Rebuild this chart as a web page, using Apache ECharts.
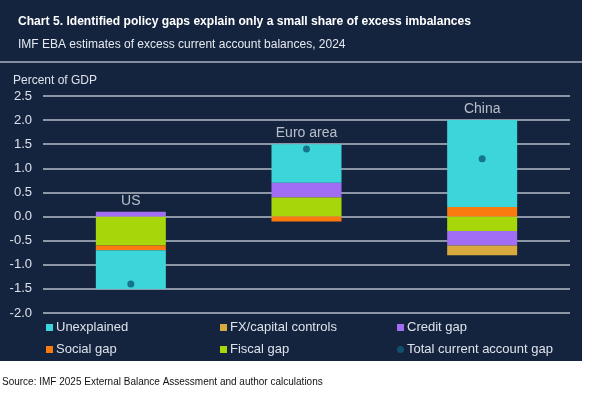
<!DOCTYPE html>
<html>
<head>
<meta charset="utf-8">
<script src="https://cdn.jsdelivr.net/npm/echarts@6/dist/echarts.min.js"></script>
<style>html,body{margin:0;padding:0;background:#fff;}#c{width:602px;height:396px;}</style>
</head>
<body>
<div id="c"></div>
<script>
var categories = ['US', 'Euro area', 'China'];
var fiscalGap = [-0.6, 0.4, -0.3];
var socialGap = [-0.1, -0.1, 0.2];
var creditGap = [0.1, 0.3, -0.3];
var fxControls = [0, 0, -0.2];
var unexplained = [-0.8, 0.8, 1.8];
var totalGap = [-1.4, 1.4, 1.2];
var yTicks = [-2.0, 2.5, 0.5];

var colors = {
  unexplained: '#3cd5da', fx: '#d8a93c', credit: '#a16ef3',
  social: '#fb7a10', fiscal: '#a7d60b', total: '#0e5b79'
};
var txt = '#dde2ea';

var componentArrays = [fiscalGap, socialGap, creditGap, fxControls, unexplained];
var tops = categories.map(function (c, i) {
  var s = 0;
  componentArrays.forEach(function (a) { if (a[i] > 0) s += a[i]; });
  return s;
});

function bar(name, data, color) {
  return {
    name: name, type: 'bar', stack: 'gaps', data: data, barWidth: 70,
    itemStyle: { color: color }, emphasis: { disabled: true }
  };
}
function legendCol(left, items) {
  return {
    orient: 'vertical', left: left, top: 321, padding: 0, itemWidth: 7, itemHeight: 7, itemGap: 9,
    data: items, textStyle: { color: txt, fontSize: 13, fontFamily: 'Liberation Sans', padding: [0, 0, 0, -2] }
  };
}

var chart = echarts.init(document.getElementById('c'));
chart.setOption({
  backgroundColor: '#ffffff',
  animation: false,
  graphic: [
    { type: 'rect', shape: { x: 0, y: 0, width: 582, height: 361 }, style: { fill: '#14243e' }, z: -10 },
    { type: 'line', shape: { x1: 0, y1: 62, x2: 582, y2: 62 }, style: { stroke: '#a9b3c3', lineWidth: 1.5 }, z: -5 }
  ],
  title: [
    { text: 'Chart 5. Identified policy gaps explain only a small share of excess imbalances',
      left: 18, top: 16, padding: 0, textStyle: { color: '#ffffff', fontSize: 12.1, fontWeight: 'bold', fontFamily: 'Liberation Sans' } },
    { text: 'IMF EBA estimates of excess current account balances, 2024',
      left: 18, top: 39, padding: 0, textStyle: { color: '#e6e9ef', fontSize: 12, fontWeight: 'normal', fontFamily: 'Liberation Sans' } },
    { text: 'Percent of GDP', left: 13, top: 75, padding: 0, textStyle: { color: txt, fontSize: 12, fontWeight: 'normal', fontFamily: 'Liberation Sans' } },
    { text: 'Source: IMF 2025 External Balance Assessment and author calculations',
      left: 2, top: 377, padding: 0, textStyle: { color: '#111111', fontSize: 10, fontWeight: 'normal', fontFamily: 'Liberation Sans' } }
  ],
  grid: { left: 43, right: 32, top: 96, bottom: 83 },
  xAxis: {
    type: 'category', data: categories,
    axisLine: { show: false }, axisTick: { show: false }, axisLabel: { show: false }
  },
  yAxis: {
    type: 'value', min: yTicks[0], max: yTicks[1], interval: yTicks[2],
    axisLine: { show: false }, axisTick: { show: false },
    axisLabel: { color: txt, fontSize: 13, margin: 11, fontFamily: 'Liberation Sans',
      formatter: function (v) { return v.toFixed(1); } },
    splitLine: { lineStyle: { color: '#b4bccb', width: 1.5 } }
  },
  legend: [
    legendCol(46, [{ name: 'Unexplained', icon: 'rect' }, { name: 'Social gap', icon: 'rect' }]),
    legendCol(220, [{ name: 'FX/capital controls', icon: 'rect' }, { name: 'Fiscal gap', icon: 'rect' }]),
    legendCol(397, [{ name: 'Credit gap', icon: 'rect' }, { name: 'Total current account gap', icon: 'circle' }])
  ],
  series: [
    bar('Fiscal gap', fiscalGap, colors.fiscal),
    bar('Social gap', socialGap, colors.social),
    bar('Credit gap', creditGap, colors.credit),
    bar('FX/capital controls', fxControls, colors.fx),
    bar('Unexplained', unexplained, colors.unexplained),
    {
      name: 'Total current account gap', type: 'scatter', data: totalGap, symbolSize: 7,
      itemStyle: { color: colors.total }, z: 5, emphasis: { disabled: true }
    },
    {
      name: 'labels', type: 'scatter', data: tops, symbolSize: 0, silent: true,
      label: { show: true, position: 'top', distance: 4, color: txt, fontSize: 14, fontFamily: 'Liberation Sans',
        formatter: function (p) { return categories[p.dataIndex]; } }
    }
  ]
});
</script>
</body>
</html>
